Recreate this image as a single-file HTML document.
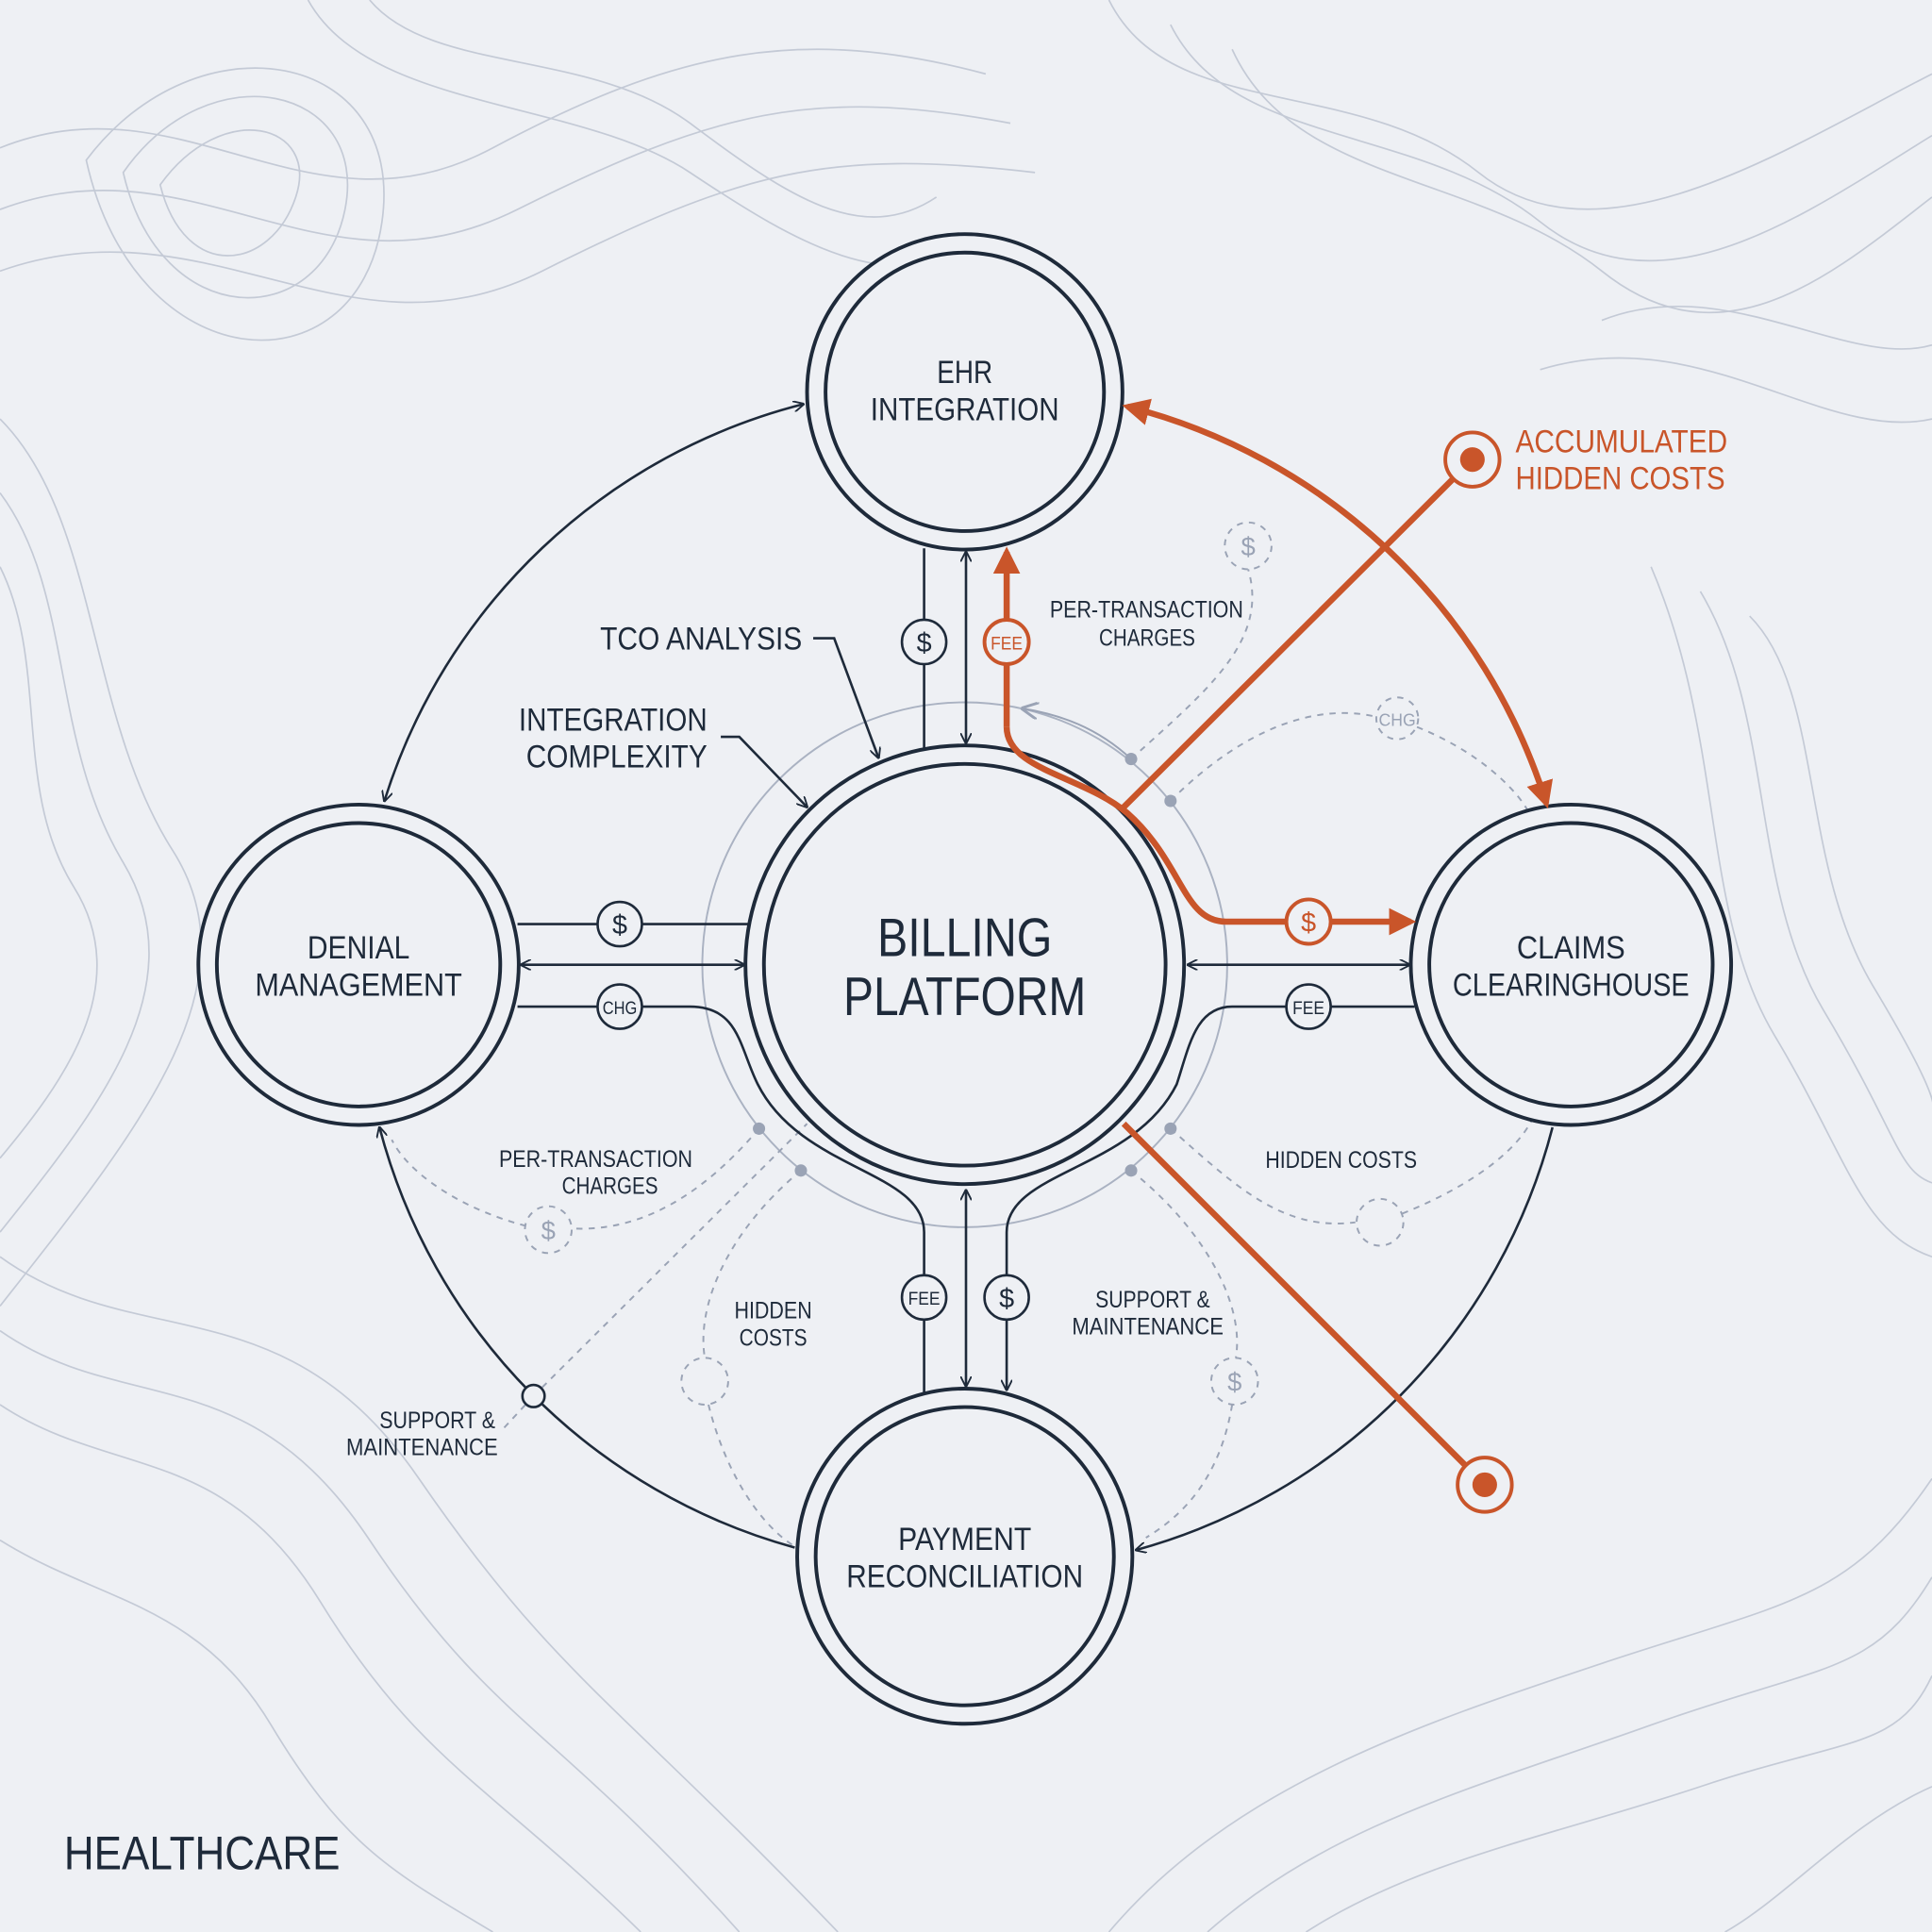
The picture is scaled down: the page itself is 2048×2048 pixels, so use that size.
<!DOCTYPE html>
<html><head><meta charset="utf-8"><style>
html,body{margin:0;padding:0;background:#eef0f4;}
svg{display:block;}
text{font-family:"Liberation Sans",sans-serif;fill:#1e2a3a;}
</style></head><body>
<svg width="2048" height="2048" viewBox="0 0 1568 1568" xmlns="http://www.w3.org/2000/svg">
<defs>
<marker id="a" viewBox="0 0 10 10" refX="9" refY="5" markerWidth="9" markerHeight="9" orient="auto-start-reverse" markerUnits="userSpaceOnUse"><path d="M0,0 L10,5 L0,10" fill="none" stroke="#1e2a3a" stroke-width="1.6"/></marker>
<marker id="r" viewBox="0 0 10 10" refX="8" refY="5" markerWidth="22" markerHeight="22" orient="auto-start-reverse" markerUnits="userSpaceOnUse"><path d="M0,0 L10,5 L0,10 z" fill="#c9552a"/></marker>
<marker id="g" viewBox="0 0 10 10" refX="9" refY="5" markerWidth="14" markerHeight="14" orient="auto" markerUnits="userSpaceOnUse"><path d="M0,0 L10,5 L0,10" fill="none" stroke="#9aa3b5" stroke-width="1.6"/></marker>
</defs>
<rect width="1568" height="1568" fill="#eef0f4"/>
<g fill="none" stroke="#c4cad6" stroke-width="1.3">
<path d="M0,120 C150,60 250,200 400,120 S650,20 800,60"/>
<path d="M0,170 C160,110 260,250 420,170 S660,70 820,100"/>
<path d="M0,220 C170,160 280,300 440,220 S670,120 840,140"/>
<path d="M130,150 C180,80 260,100 240,160 S150,230 130,150z"/>
<path d="M100,140 C170,40 300,70 280,170 S130,270 100,140z"/>
<path d="M70,130 C160,10 330,40 310,180 S110,310 70,130z"/>
<path d="M900,0 C950,100 1100,60 1200,140 S1450,120 1568,60"/>
<path d="M950,20 C1000,120 1150,100 1250,180 S1470,170 1568,110"/>
<path d="M1000,40 C1050,150 1200,140 1300,220 S1490,220 1568,160"/>
<path d="M1300,260 C1400,220 1500,300 1568,280"/>
<path d="M1250,300 C1380,260 1480,360 1568,340"/>
<path d="M1420,500 C1480,560 1460,700 1520,800 S1568,900 1568,900"/>
<path d="M1380,480 C1440,580 1420,720 1480,820 S1540,950 1568,960"/>
<path d="M1340,460 C1400,600 1380,740 1440,840 S1510,1000 1568,1020"/>
<path d="M0,400 C60,480 40,600 100,700 S80,900 0,1000"/>
<path d="M0,460 C40,540 10,640 60,720 S50,880 0,940"/>
<path d="M0,340 C80,420 70,580 140,690 S110,920 0,1060"/>
<path d="M0,1080 C100,1150 200,1100 300,1250 S450,1400 600,1568"/>
<path d="M0,1140 C90,1200 180,1170 260,1300 S400,1450 520,1568"/>
<path d="M0,1250 C80,1300 160,1300 220,1400 S320,1520 400,1568"/>
<path d="M0,1020 C110,1100 230,1040 340,1200 S500,1380 680,1568"/>
<path d="M900,1568 C1000,1450 1150,1400 1300,1350 S1500,1300 1568,1200"/>
<path d="M980,1568 C1080,1480 1200,1450 1340,1400 S1520,1360 1568,1280"/>
<path d="M1060,1568 C1150,1510 1260,1490 1380,1450 S1540,1420 1568,1360"/>
<path d="M300,0 C350,60 480,40 560,100 S700,200 760,160"/>
<path d="M250,0 C300,90 470,80 560,140 S720,240 800,200"/>
<path d="M1568,1450 C1500,1480 1450,1540 1400,1568"/>
</g>
<g fill="none" stroke="#9aa3b5" stroke-width="1.5">
<circle cx="783" cy="783" r="213" stroke="#aab2c2"/>
<g stroke-dasharray="5 5">
<path d="M918,616 C980,560 1030,520 1013,462"/>
<circle cx="1013" cy="443" r="19"/>
<path d="M950,650 C1010,590 1070,570 1118,582"/>
<circle cx="1134" cy="583" r="17"/>
<path d="M1150,590 C1200,610 1230,640 1240,658"/>
<path d="M950,916 C1000,960 1040,1000 1100,992"/>
<circle cx="1120" cy="992" r="19"/>
<path d="M1138,985 C1200,960 1235,930 1245,905"/>
<path d="M918,950 C980,1000 1010,1060 1003,1102"/>
<circle cx="1002" cy="1121" r="19"/>
<path d="M1000,1140 C990,1200 960,1230 930,1248"/>
<path d="M616,916 C570,970 520,1000 464,997"/>
<circle cx="445" cy="998" r="19"/>
<path d="M427,995 C370,980 330,950 318,925"/>
<path d="M650,950 C590,1000 565,1060 572,1102"/>
<circle cx="572" cy="1121" r="19"/>
<path d="M575,1140 C590,1200 620,1240 645,1255"/>
<path d="M433,1133 L655,912"/>
<path d="M433,1133 L408,1160"/>
</g>
<path d="M918,616 C890,590 860,580 830,575" marker-end="url(#g)"/>
</g>
<g fill="#9aa3b5"><circle cx="918" cy="616" r="5"/><circle cx="950" cy="650" r="5"/><circle cx="950" cy="916" r="5"/><circle cx="918" cy="950" r="5"/><circle cx="616" cy="916" r="5"/><circle cx="650" cy="950" r="5"/></g>
<g font-size="21" text-anchor="middle"><text x="1013" y="451" style="fill:#9aa3b5">$</text><text x="1134" y="589" font-size="14" style="fill:#9aa3b5" textLength="30" lengthAdjust="spacingAndGlyphs">CHG</text><text x="1002" y="1129" style="fill:#9aa3b5">$</text><text x="445" y="1006" style="fill:#9aa3b5">$</text></g>

<g fill="none" stroke="#1e2a3a" stroke-width="2">
<path d="M312,650 A480,480 0 0 1 652,328" marker-start="url(#a)" marker-end="url(#a)"/>
<path d="M308,915 A480,480 0 0 0 645,1256" marker-start="url(#a)"/>
<path d="M1260,915 A480,480 0 0 1 922,1258" marker-end="url(#a)"/>
<line x1="750" y1="445" x2="750" y2="607"/>
<line x1="784" y1="448" x2="784" y2="603" marker-start="url(#a)" marker-end="url(#a)"/>
<line x1="420" y1="750" x2="607" y2="750"/>
<line x1="423" y1="783" x2="604" y2="783" marker-start="url(#a)" marker-end="url(#a)"/>
<path d="M420,817 L560,817 C600,817 600,850 615,880 C650,950 750,950 750,1000 L750,1130"/>
<line x1="964" y1="783" x2="1144" y2="783" marker-start="url(#a)" marker-end="url(#a)"/>
<path d="M1148,817 L1000,817 C970,817 965,850 955,880 C920,950 817,950 817,1000 L817,1128" marker-end="url(#a)"/>
<line x1="784" y1="966" x2="784" y2="1125" marker-start="url(#a)" marker-end="url(#a)"/>
<path d="M660,518 L677,518 L713,615" marker-end="url(#a)"/>
<path d="M585,598 L600,598 L655,655" marker-end="url(#a)"/>
</g>
<circle cx="433" cy="1133" r="9" fill="#eef0f4" stroke="#1e2a3a" stroke-width="2"/>

<g fill="#eef0f4" stroke="#1e2a3a" stroke-width="3">
<circle cx="783" cy="318" r="128"/><circle cx="783" cy="318" r="113"/>
<circle cx="783" cy="783" r="178"/><circle cx="783" cy="783" r="163"/>
<circle cx="291" cy="783" r="130"/><circle cx="291" cy="783" r="115"/>
<circle cx="1275" cy="783" r="130"/><circle cx="1275" cy="783" r="115"/>
<circle cx="783" cy="1263" r="136"/><circle cx="783" cy="1263" r="121"/>
</g>

<g fill="none" stroke="#c9552a" stroke-width="5">
<path d="M915,330 A480,480 0 0 1 1255,652" marker-start="url(#r)" marker-end="url(#r)"/>
<path d="M817,590 L817,448" marker-end="url(#r)"/>
<path d="M817,590 C817,625 880,630 915,660 C960,700 960,748 995,748 L1145,748" marker-end="url(#r)"/>
<line x1="912" y1="655" x2="1195" y2="373"/>
<line x1="912" y1="912" x2="1205" y2="1205"/>
</g>
<g fill="#eef0f4" stroke="#c9552a" stroke-width="3">
<circle cx="1195" cy="373" r="22"/><circle cx="1205" cy="1205" r="22"/>
<circle cx="817" cy="521" r="18"/><circle cx="1062" cy="748" r="18"/>
</g>
<circle cx="1195" cy="373" r="10" fill="#c9552a"/><circle cx="1205" cy="1205" r="10" fill="#c9552a"/>

<g fill="#eef0f4" stroke="#1e2a3a" stroke-width="2">
<circle cx="750" cy="521" r="18"/><circle cx="503" cy="750" r="18"/><circle cx="503" cy="817" r="18"/>
<circle cx="1062" cy="817" r="18"/><circle cx="750" cy="1053" r="18"/><circle cx="817" cy="1053" r="18"/>
</g>
<g text-anchor="middle" font-size="22" lengthAdjust="spacingAndGlyphs">
<text x="750" y="529">$</text><text x="503" y="758">$</text><text x="503" y="823" font-size="15" textLength="28" lengthAdjust="spacingAndGlyphs">CHG</text>
<text x="1062" y="823" font-size="15" textLength="26" lengthAdjust="spacingAndGlyphs">FEE</text><text x="750" y="1059" font-size="15" textLength="26" lengthAdjust="spacingAndGlyphs">FEE</text><text x="817" y="1061">$</text>
<text x="817" y="527" font-size="15" style="fill:#c9552a" textLength="26" lengthAdjust="spacingAndGlyphs">FEE</text><text x="1062" y="756" style="fill:#c9552a">$</text>
</g>

<g text-anchor="middle" font-size="26">
<text x="783" y="311" textLength="45" lengthAdjust="spacingAndGlyphs">EHR</text><text x="783" y="341" textLength="153" lengthAdjust="spacingAndGlyphs">INTEGRATION</text>
<text x="291" y="778" textLength="83" lengthAdjust="spacingAndGlyphs">DENIAL</text><text x="291" y="808" textLength="168" lengthAdjust="spacingAndGlyphs">MANAGEMENT</text>
<text x="1275" y="778" textLength="88" lengthAdjust="spacingAndGlyphs">CLAIMS</text><text x="1275" y="808" textLength="192" lengthAdjust="spacingAndGlyphs">CLEARINGHOUSE</text>
<text x="783" y="1258" textLength="108" lengthAdjust="spacingAndGlyphs">PAYMENT</text><text x="783" y="1288" textLength="192" lengthAdjust="spacingAndGlyphs">RECONCILIATION</text>
<text x="783" y="776" font-size="44" textLength="142" lengthAdjust="spacingAndGlyphs">BILLING</text><text x="783" y="824" font-size="44" textLength="197" lengthAdjust="spacingAndGlyphs">PLATFORM</text>
</g>
<g font-size="26">
<text x="487" y="527" textLength="164" lengthAdjust="spacingAndGlyphs">TCO ANALYSIS</text>
<text x="421" y="593" textLength="153" lengthAdjust="spacingAndGlyphs">INTEGRATION</text><text x="427" y="623" textLength="147" lengthAdjust="spacingAndGlyphs">COMPLEXITY</text>
</g>
<g font-size="19">
<text x="852" y="501" textLength="157" lengthAdjust="spacingAndGlyphs">PER-TRANSACTION</text><text x="892" y="524" textLength="78" lengthAdjust="spacingAndGlyphs">CHARGES</text>
<text x="405" y="947" textLength="157" lengthAdjust="spacingAndGlyphs">PER-TRANSACTION</text><text x="456" y="969" textLength="78" lengthAdjust="spacingAndGlyphs">CHARGES</text>
<text x="1027" y="948" textLength="123" lengthAdjust="spacingAndGlyphs">HIDDEN COSTS</text>
<text x="596" y="1070" textLength="63" lengthAdjust="spacingAndGlyphs">HIDDEN</text><text x="600" y="1092" textLength="55" lengthAdjust="spacingAndGlyphs">COSTS</text>
<text x="889" y="1061" textLength="93" lengthAdjust="spacingAndGlyphs">SUPPORT &amp;</text><text x="870" y="1083" textLength="123" lengthAdjust="spacingAndGlyphs">MAINTENANCE</text>
<text x="308" y="1159" textLength="94" lengthAdjust="spacingAndGlyphs">SUPPORT &amp;</text><text x="281" y="1181" textLength="123" lengthAdjust="spacingAndGlyphs">MAINTENANCE</text>
</g>
<g font-size="26">
<text x="1230" y="367" style="fill:#c9552a" textLength="172" lengthAdjust="spacingAndGlyphs">ACCUMULATED</text><text x="1230" y="397" style="fill:#c9552a" textLength="170" lengthAdjust="spacingAndGlyphs">HIDDEN COSTS</text>
</g>
<text x="52" y="1517" font-size="38" textLength="224" lengthAdjust="spacingAndGlyphs">HEALTHCARE</text>
</svg>
</body></html>
